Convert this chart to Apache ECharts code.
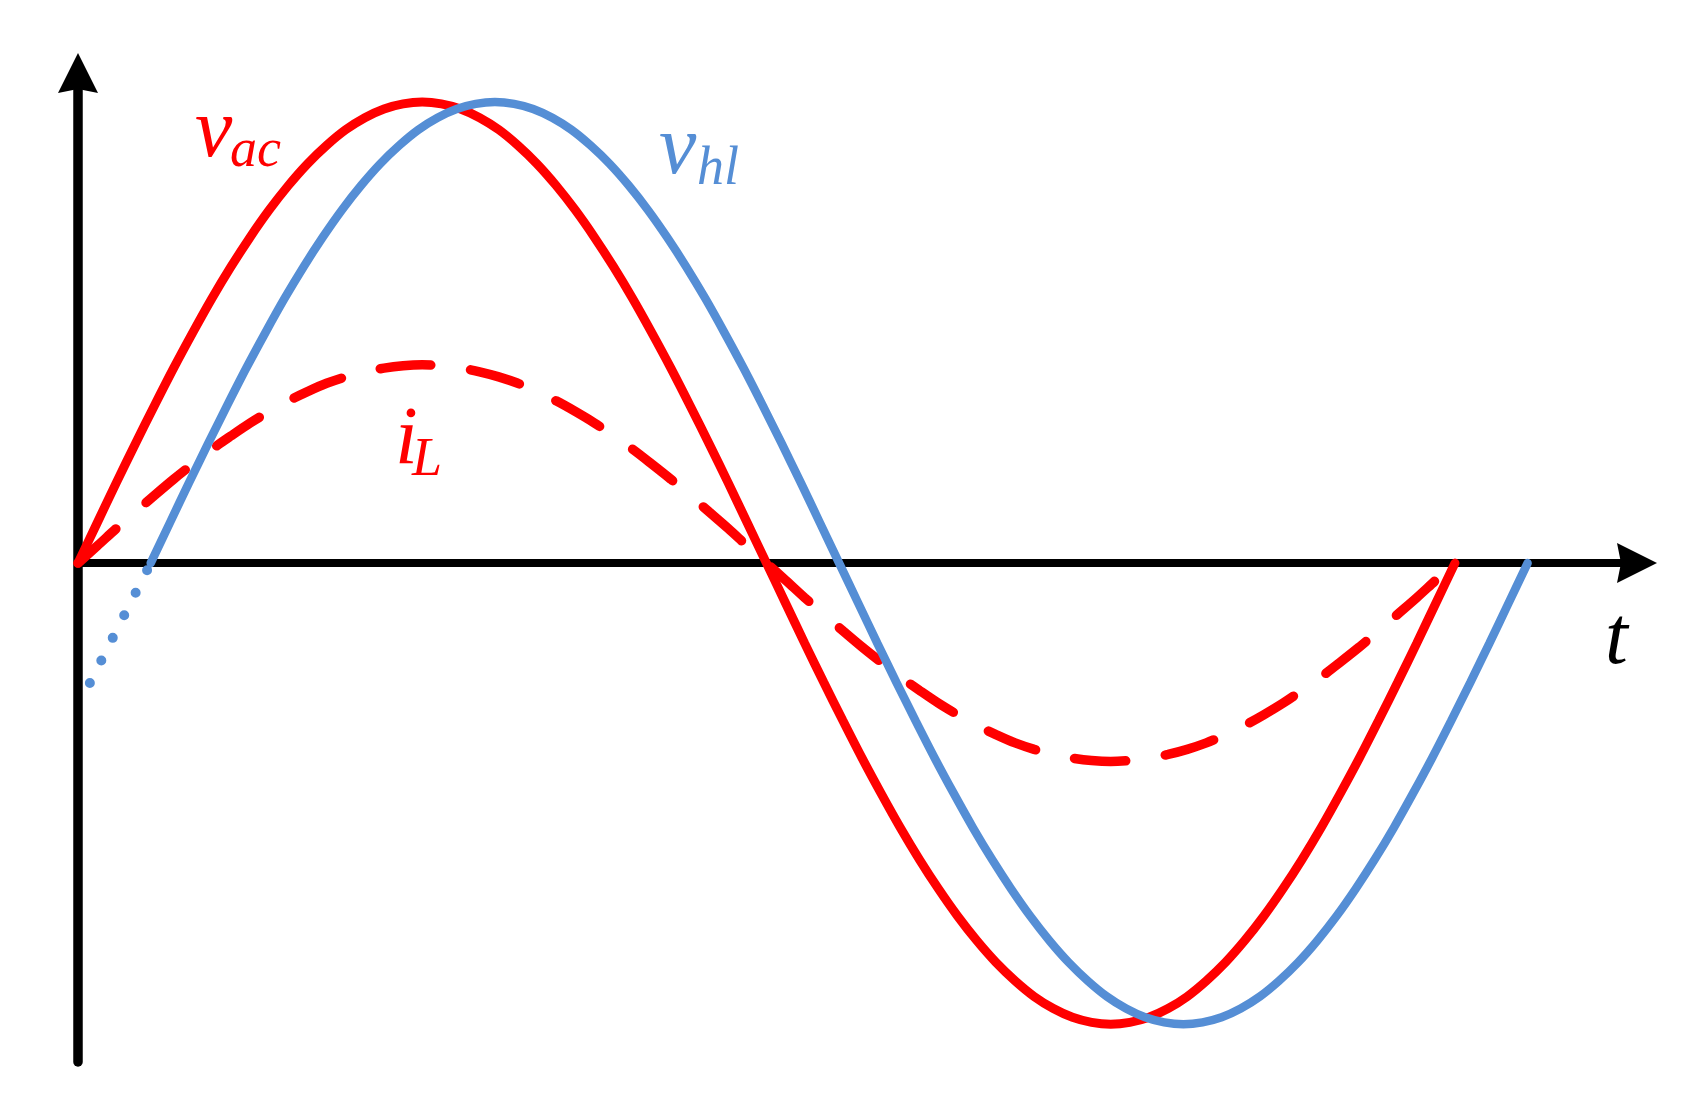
<!DOCTYPE html>
<html>
<head>
<meta charset="utf-8">
<script src="https://cdn.jsdelivr.net/npm/echarts@6/dist/echarts.min.js"></script>
<style>
html, body { margin: 0; padding: 0; background: #fff; }
#picture { width: 1682px; height: 1111px; }
</style>
</head>
<body>
<div id="picture"></div>
<script>
// phase angle (deg) and values, amplitude of v_ac = 1
var acTime = [0,5,10,15,20,25,30,35,40,45,50,55,60,65,70,75,80,85,90,95,100,105,110,115,120,125,130,135,140,145,150,155,160,165,170,175,180,
    185,190,195,200,205,210,215,220,225,230,235,240,245,250,255,260,265,270,275,280,285,290,295,300,305,310,315,320,325,330,335,340,345,350,355,360];
var vac = [0,0.087,0.174,0.259,0.342,0.423,0.5,0.574,0.643,0.707,0.766,0.819,0.866,0.906,0.94,0.966,0.985,0.996,1,0.996,0.985,0.966,0.94,0.906,0.866,0.819,0.766,0.707,0.643,0.574,0.5,0.423,0.342,0.259,0.174,0.087,0,
    -0.087,-0.174,-0.259,-0.342,-0.423,-0.5,-0.574,-0.643,-0.707,-0.766,-0.819,-0.866,-0.906,-0.94,-0.966,-0.985,-0.996,-1,-0.996,-0.985,-0.966,-0.94,-0.906,-0.866,-0.819,-0.766,-0.707,-0.643,-0.574,-0.5,-0.423,-0.342,-0.259,-0.174,-0.087,0];
var iL = [0,0.037,0.075,0.111,0.147,0.182,0.215,0.247,0.276,0.304,0.329,0.352,0.372,0.39,0.404,0.415,0.423,0.428,0.43,0.428,0.423,0.415,0.404,0.39,0.372,0.352,0.329,0.304,0.276,0.247,0.215,0.182,0.147,0.111,0.075,0.037,0,
    -0.037,-0.075,-0.111,-0.147,-0.182,-0.215,-0.247,-0.276,-0.304,-0.329,-0.352,-0.372,-0.39,-0.404,-0.415,-0.423,-0.428,-0.43,-0.428,-0.423,-0.415,-0.404,-0.39,-0.372,-0.352,-0.329,-0.304,-0.276,-0.247,-0.215,-0.182,-0.147,-0.111,-0.075,-0.037,0];
var hlTime = [19,24,29,34,39,44,49,54,59,64,69,74,79,84,89,94,99,104,109,114,119,124,129,134,139,144,149,154,159,164,169,174,179,184,189,194,199,
    204,209,214,219,224,229,234,239,244,249,254,259,264,269,274,279,284,289,294,299,304,309,314,319,324,329,334,339,344,349,354,359,364,369,374,379];
var vhl = [0,0.087,0.174,0.259,0.342,0.423,0.5,0.574,0.643,0.707,0.766,0.819,0.866,0.906,0.94,0.966,0.985,0.996,1,0.996,0.985,0.966,0.94,0.906,0.866,0.819,0.766,0.707,0.643,0.574,0.5,0.423,0.342,0.259,0.174,0.087,0,
    -0.087,-0.174,-0.259,-0.342,-0.423,-0.5,-0.574,-0.643,-0.707,-0.766,-0.819,-0.866,-0.906,-0.94,-0.966,-0.985,-0.996,-1,-0.996,-0.985,-0.966,-0.94,-0.906,-0.866,-0.819,-0.766,-0.707,-0.643,-0.574,-0.5,-0.423,-0.342,-0.259,-0.174,-0.087,0];
// dotted lead-in of v_hl before it starts
var hlLeadTime = [3.1, 19];
var hlLead = [-0.26, 0];

var RED = '#FF0000';
var BLUE = '#558ED5';
var arrow = 'path://M0,0 L20,40 L0,36 L-20,40 Z';

function pairs(xs, ys) {
    var out = [];
    for (var i = 0; i < xs.length; i++) {
        out.push([xs[i], ys[i]]);
    }
    return out;
}

function label(text, x, y, size, color) {
    return {
        type: 'text',
        x: x,
        y: y,
        style: {
            text: text,
            fill: color,
            font: 'italic ' + size + 'px "Liberation Serif"',
            align: 'left',
            verticalAlign: 'middle'
        }
    };
}

function drawWaves() {
    var myChart = echarts.init(document.getElementById('picture'));
    var option = {
    backgroundColor: '#FFFFFF',
    animation: false,
    grid: { left: 78, right: 45, top: 73, bottom: 49 },
    xAxis: {
        type: 'value',
        min: 0,
        max: 407.6,
        axisLine: {
            onZero: true,
            symbol: ['none', arrow],
            symbolSize: [41, 40],
            lineStyle: { color: '#000', width: 8 }
        },
        axisTick: { show: false },
        axisLabel: { show: false },
        splitLine: { show: false }
    },
    yAxis: {
        type: 'value',
        min: -1.082,
        max: 1.063,
        axisLine: {
            show: true,
            symbol: ['none', arrow],
            symbolSize: [41, 40],
            lineStyle: { color: '#000', width: 9.5, cap: 'round' }
        },
        axisTick: { show: false },
        axisLabel: { show: false },
        splitLine: { show: false }
    },
    series: [
        {
            name: 'iL',
            type: 'line',
            smooth: 0.3,
            showSymbol: false,
            data: pairs(acTime, iL),
            lineStyle: { color: RED, width: 9.5, type: [51, 40], cap: 'round' },
            z: 2
        },
        {
            name: 'vac',
            type: 'line',
            smooth: 0.3,
            showSymbol: false,
            data: pairs(acTime, vac),
            lineStyle: { color: RED, width: 9, cap: 'round' },
            z: 3
        },
        {
            name: 'vhl lead',
            type: 'line',
            showSymbol: false,
            data: pairs(hlLeadTime, hlLead),
            lineStyle: { color: BLUE, width: 10, type: [0, 25.3], cap: 'round' },
            z: 3
        },
        {
            name: 'vhl',
            type: 'line',
            smooth: 0.3,
            showSymbol: false,
            data: pairs(hlTime, vhl),
            lineStyle: { color: BLUE, width: 8.5, cap: 'round' },
            z: 4
        }
    ],
    graphic: [
        label('v', 195, 134, 84, RED),
        label('ac', 230, 152, 54, RED),
        label('v', 659, 151, 84, BLUE),
        label('hl', 697, 170, 54, BLUE),
        label('i', 395, 441, 82, RED),
        label('L', 412, 461, 54, RED),
        label('t', 1605, 641, 82, '#000')
    ]
};
return myChart.setOption(option);
}

drawWaves();
</script>
</body>
</html>
